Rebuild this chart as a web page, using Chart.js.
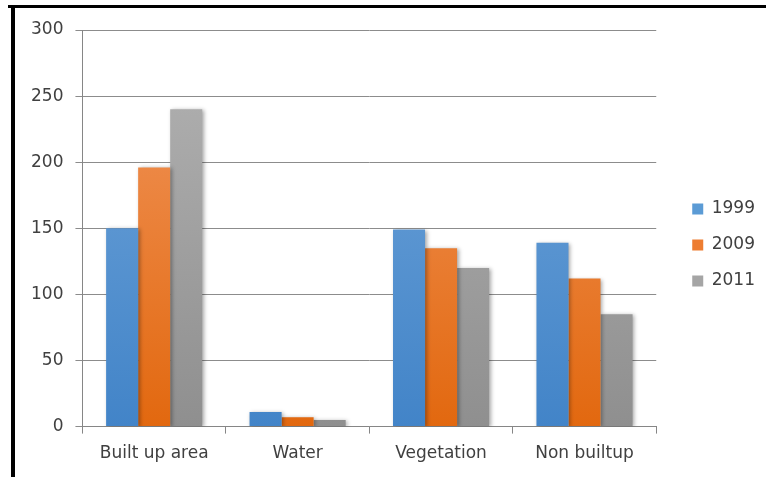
<!DOCTYPE html>
<html>
<head>
<meta charset="utf-8">
<script src="https://cdn.jsdelivr.net/npm/chart.js@4/dist/chart.umd.min.js"></script>
<style>
  html, body { margin: 0; padding: 0; background: #fff; }
  #wrap { position: relative; width: 766px; height: 477px; }
</style>
</head>
<body>
<div id="wrap"><canvas id="c" width="766" height="477"></canvas></div>
<script>
// Land-cover area by class and survey year
const categories = ['Built up area', 'Water', 'Vegetation', 'Non builtup'];
const years = ['1999', '2009', '2011'];
const area1999 = [150, 11, 149, 139];
const area2009 = [196, 7, 135, 112];
const area2011 = [240, 5, 120, 85];
const yTicks = [0, 50, 100, 150, 200, 250, 300];

// top / bottom shades for each series' vertical gradient
const shades = [
  ['#72a6da', '#4284c8'],
  ['#f29860', '#e2680f'],
  ['#b3b3b3', '#8f8f8f']
];
const solid = ['#5b9bd5', '#ed7d31', '#a5a5a5'];

function gradientFor(i) {
  return (ctx) => {
    const area = ctx.chart.chartArea;
    if (!area) return solid[i];
    const g = ctx.chart.ctx.createLinearGradient(0, area.top, 0, area.bottom);
    g.addColorStop(0, shades[i][0]);
    g.addColorStop(1, shades[i][1]);
    return g;
  };
}

const seriesValues = [area1999, area2009, area2011];

// frame lines along the top and left edge, plus soft bar shadows
const framePlugin = {
  id: 'frame',
  beforeLayout(chart) {
    // reserve a little extra room for the legend column
    const lg = chart.legend;
    if (lg && !lg._extraGap) {
      const fit = lg.fit.bind(lg);
      lg.fit = function () { fit(); this.width += 18; };
      lg._extraGap = true;
    }
  },
  afterLayout(chart) {
    // nudge the legend entries right and slightly up
    const lg = chart.legend;
    if (lg) {
      lg.left += 17; lg.right += 17;
      lg.top -= 7; lg.bottom -= 7;
    }
  },
  beforeDraw(chart) {
    const c = chart.ctx;
    c.save();
    c.fillStyle = '#fff';
    c.fillRect(0, 0, chart.width, chart.height);
    c.fillStyle = '#000';
    c.fillRect(8, 5, chart.width - 8, 3);
    c.fillRect(11, 5, 4, chart.height - 5);
    c.restore();
  },
  beforeDatasetsDraw(chart) {
    const c = chart.ctx;
    c.save();
    c.shadowColor = 'rgba(0,0,0,0.35)';
    c.shadowBlur = 4;
    c.shadowOffsetX = 1.5;
    c.shadowOffsetY = 1;
  },
  afterDatasetsDraw(chart) {
    chart.ctx.restore();
  }
};

const FONT = "'DejaVu Sans', sans-serif";

new Chart(document.getElementById('c'), {
  type: 'bar',
  data: {
    labels: categories,
    datasets: years.map((y, i) => ({
      label: y,
      data: seriesValues[i],
      backgroundColor: gradientFor(i),
      borderWidth: 0,
      categoryPercentage: 0.67,
      barPercentage: 1.0
    }))
  },
  options: {
    responsive: false,
    animation: false,
    devicePixelRatio: 1,
    layout: { padding: { left: 19, top: 30, right: 0, bottom: 3 } },
    plugins: {
      tooltip: { enabled: false },
      legend: {
        position: 'right',
        align: 'center',
        labels: {
          boxWidth: 11,
          boxHeight: 11,
          padding: 19,
          color: '#404040',
          font: { family: FONT, size: 17 },
          generateLabels(chart) {
            return chart.data.datasets.map((ds, i) => ({
              text: ds.label,
              fillStyle: solid[i],
              strokeStyle: solid[i],
              lineWidth: 0,
              datasetIndex: i,
              fontColor: '#404040'
            }));
          }
        }
      }
    },
    scales: {
      x: {
        offset: true,
        grid: {
          offset: true,
          drawOnChartArea: false,
          drawTicks: true,
          tickLength: 7,
          color: '#868686'
        },
        border: { display: true, color: '#868686', width: 1 },
        ticks: {
          color: '#404040',
          padding: 10,
          font: { family: FONT, size: 17 }
        }
      },
      y: {
        min: 0,
        max: 300,
        afterBuildTicks(axis) {
          axis.ticks = yTicks.map(v => ({ value: v }));
        },
        grid: {
          color: '#8c8c8c',
          drawTicks: true,
          tickLength: 7
        },
        border: { display: true, color: '#868686', width: 1 },
        ticks: {
          color: '#404040',
          padding: 12,
          font: { family: FONT, size: 17 }
        }
      }
    }
  },
  plugins: [framePlugin]
});
</script>
</body>
</html>
